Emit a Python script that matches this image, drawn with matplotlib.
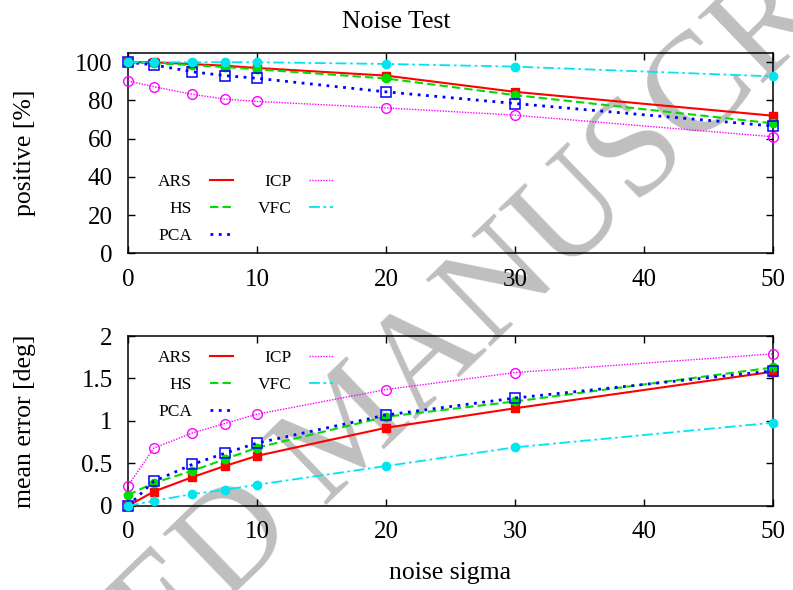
import matplotlib
matplotlib.use('Agg')
import matplotlib.pyplot as plt
from matplotlib.lines import Line2D
from matplotlib.ticker import FuncFormatter

plt.rcParams['font.family'] = ['Liberation Serif', 'DejaVu Serif']

# noise sigma values
sigma = [0, 2, 5, 7.5, 10, 20, 30, 50]

# positive [%]
pos_ars = [100, 100, 99, 98.2, 97, 93, 84.5, 72]
pos_hs = [100, 99.5, 98.5, 97.5, 96.3, 91.5, 82.8, 68]
pos_pca = [100, 98.6, 95, 93, 91.6, 84.5, 78.4, 66.6]
pos_icp = [90.2, 87.2, 83.2, 80.7, 79.5, 76.1, 72.3, 61]
pos_vfc = [100, 100, 100, 100, 100, 99.1, 97.7, 92.6]

# mean error [deg]
err_ars = [0.0, 0.17, 0.34, 0.47, 0.59, 0.92, 1.15, 1.58]
err_hs = [0.13, 0.27, 0.415, 0.55, 0.686, 1.05, 1.23, 1.63]
err_pca = [0.0, 0.29, 0.49, 0.62, 0.74, 1.07, 1.27, 1.59]
err_icp = [0.24, 0.68, 0.86, 0.97, 1.08, 1.37, 1.57, 1.79]
err_vfc = [0.0, 0.06, 0.14, 0.19, 0.25, 0.47, 0.69, 0.98]

names = ['ARS', 'HS', 'PCA', 'ICP', 'VFC']
styles = {
    'ARS': dict(color='#ff0000', ls='-', lw=1.5, marker='s', ms=6, mfc='#ff0000'),
    'HS': dict(color='#00dd00', ls=(0, (4, 2)), lw=1.5, marker='o', ms=6, mfc='#00dd00'),
    'PCA': dict(color='#0000ff', ls=(0, (1, 2)), lw=2.0, marker='s', ms=7, mfc='none', mew=1.1),
    'ICP': dict(color='#ff00ff', ls=(0, (1, 1)), lw=1.0, marker='o', ms=7, mfc='none', mew=1.0),
    'VFC': dict(color='#00e5ee', ls=(0, (6, 2, 1.5, 2)), lw=1.3, marker='o', ms=6, mfc='#00e5ee'),
}

fig = plt.figure(figsize=(7.93, 5.9), dpi=100)
ax1 = fig.add_axes([0.1614, 0.5707, 0.8134, 0.340])
ax2 = fig.add_axes([0.1614, 0.1424, 0.8134, 0.2881])

# watermark behind the plots
fig.text(0.445, 0.268, 'ACCEPTED MANUSCRIPT', rotation=44, fontsize=102,
         color='0.75', ha='center', va='center', zorder=-1,
         rotation_mode='anchor')


def draw(ax, series, ylim, yticks, leg_y):
    ax.patch.set_alpha(0)
    for name, vals in zip(names, series):
        st = styles[name]
        ax.plot(sigma, vals, clip_on=False, zorder=3, **st)
    ax.set_xlim(0, 50)
    ax.set_ylim(*ylim)
    ax.set_xticks(range(0, 51, 10))
    ax.set_yticks(yticks)
    ax.yaxis.set_major_formatter(FuncFormatter(lambda v, p: '%g' % v))
    ax.tick_params(direction='in', top=True, right=True, length=5,
                   width=1, labelsize=18, pad=11)
    for sp in ax.spines.values():
        sp.set_linewidth(1.1)
    handles = []
    for name in names:
        st = styles[name]
        handles.append(Line2D([], [], color=st['color'], ls=st['ls'], lw=st['lw']))
    ax.legend(handles, names, ncol=2, frameon=False, markerfirst=False,
              loc='upper left', bbox_to_anchor=(0.047, leg_y),
              borderaxespad=0, borderpad=0, fontsize=12.5,
              handlelength=1.35, handletextpad=1.0, columnspacing=1.45,
              labelspacing=0.62)


draw(ax1, [pos_ars, pos_hs, pos_pca, pos_icp, pos_vfc], (0, 105),
     range(0, 101, 20), 0.397)
draw(ax2, [err_ars, err_hs, err_pca, err_icp, err_vfc], (0, 2),
     [0, 0.5, 1, 1.5, 2], 0.917)

ax1.set_ylabel('positive [%]', fontsize=18.5, va='center')
ax1.yaxis.set_label_coords(-0.160, 0.5)
ax2.set_ylabel('mean error [deg]', fontsize=18.5, va='center')
ax2.yaxis.set_label_coords(-0.160, 0.5)
ax2.set_xlabel('noise sigma', fontsize=18.5, va='center')
ax2.xaxis.set_label_coords(0.5, -0.394)
fig.text(0.5, 0.963, 'Noise Test', fontsize=18.5, ha='center', va='center')

fig.savefig('out.png', dpi=100)
